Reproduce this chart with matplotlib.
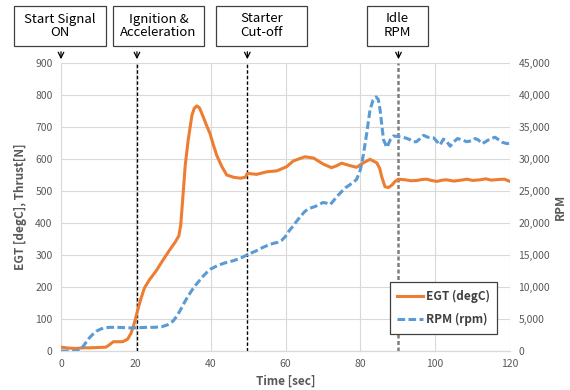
import matplotlib
matplotlib.use('Agg')
import matplotlib.pyplot as plt
from matplotlib.patches import Rectangle
from matplotlib.ticker import FuncFormatter

plt.rcParams['font.family'] = ['Noto Sans CJK KR', 'DejaVu Sans']

# EGT trace (degC), time in sec
egt_t = [0, 2, 4, 6, 8, 10, 12, 13, 14, 15, 16.5, 17.8, 18.7, 19.6, 20.5, 21.4, 22.3,
         23.6, 25.4, 27.3, 29, 30.5, 31.5, 32, 32.5, 33.2, 34, 35, 35.6, 36.3, 37, 38,
         38.9, 39.8, 40.7, 41.6, 43, 44.3, 46.1, 47.9, 49.3, 49.8, 52.3, 55, 57.7, 60.3,
         62.1, 63.5, 65.2, 67.5, 70.1, 72.3, 73.5, 75, 77, 79, 80.8, 82.6, 84.4, 85.2,
         85.7, 86.6, 87.5, 88.4, 89.3, 90.2, 92, 93.5, 95.1, 96.5, 97.7, 99, 100.4,
         102, 103, 105, 107, 108.5, 110, 112, 113.5, 115, 117, 118.5, 120]
egt = [12, 9, 8, 10, 10, 11, 12, 20, 29, 29, 29, 37, 55, 87, 128, 165, 197,
       222, 250, 285, 315, 340, 360, 394, 470, 580, 660, 737, 758, 766, 760, 732,
       705, 680, 645, 612, 576, 550, 543, 540, 543, 555, 552, 560, 563, 576,
       594, 600, 607, 603, 584, 573, 578, 587, 580, 574, 588, 599, 588, 570,
       545, 513, 511, 518, 530, 537, 535, 532, 533, 536, 537, 533, 530,
       534, 535, 531, 534, 537, 533, 535, 538, 534, 536, 537, 530]

# RPM trace
rpm_t = [0, 2, 4, 5, 5.5, 6.5, 7.5, 8.5, 9.5, 10.5, 11.5, 13, 15, 17, 19, 21, 23, 25,
         27, 28.5, 30, 31, 32, 33, 34, 35, 36, 37, 38, 39, 40, 41, 42, 44, 46, 48,
         50, 52, 54, 56, 58, 59, 60, 61, 62, 63, 64, 65, 66, 67, 68, 69, 70, 71, 72,
         73, 74, 75, 76, 77, 78, 79, 80, 80.8, 81.7, 82.6, 83.4, 84.2, 84.8, 85.3,
         85.9, 86.2, 87.1, 88, 88.9, 90.2, 91, 92, 93, 94.2, 95, 96, 96.9, 98, 99.6,
         101.3, 102.2, 103, 104, 105, 106, 107, 108.5, 110, 110.7, 111.5, 112.5, 113.5,
         114.5, 116, 117, 118, 119.2, 120]
rpm = [0, 0, 0, 100, 400, 1200, 2000, 2600, 3100, 3400, 3600, 3700, 3700, 3650,
       3600, 3650, 3700, 3700, 3800, 4100, 4700, 5500, 6500, 7600, 8600, 9500, 10300,
       11000, 11700, 12300, 12800, 13100, 13400, 13800, 14100, 14500, 15100, 15600,
       16200, 16700, 17000, 17300, 17900, 18800, 19500, 20300, 21000, 21700, 22200,
       22400, 22600, 22900, 23200, 23100, 22900, 23600, 24300, 24900, 25500, 25900,
       26300, 26800, 28300, 30600, 34000, 37700, 39200, 39700, 39300, 37600, 34500,
       33000, 31800, 33000, 33600, 33500, 33400, 33300, 33100, 32700, 32700, 33200,
       33700, 33400, 33300, 32200, 33100, 32800, 32000, 32700, 33200, 33000, 32700,
       32900, 33200, 33000, 32400, 32700, 33100, 33400, 33000, 32600, 32400, 32500]

events_t = [0, 20.3, 49.8, 90.2]
events_lbl = ['Start Signal\nON', 'Ignition &\nAcceleration', 'Starter\nCut-off', 'Idle\nRPM']
event_lines_t = [20.3, 49.8, 90.2]

W, H = 570, 390
fig = plt.figure(figsize=(W / 100, H / 100), dpi=100)
ax = fig.add_axes([61 / W, 39 / H, 449 / W, 288 / H])
ax2 = ax.twinx()

grid_c = '#D9D9D9'
txt_c = '#595959'

ax.set_xlim(0, 120)
ax.set_ylim(0, 900)
ax.set_xticks(range(0, 121, 20))
ax.set_yticks(range(0, 901, 100))
ax2.set_ylim(0, 45000)
ax2.set_yticks(range(0, 45001, 5000))
ax2.yaxis.set_major_formatter(FuncFormatter(lambda v, p: f'{int(v):,}'))

ax.grid(True, color=grid_c, lw=0.8)
ax.set_axisbelow(True)
for a in (ax, ax2):
    for s in ('top', 'right'):
        a.spines[s].set_visible(False)
    a.spines['left'].set_visible(False)
    a.spines['bottom'].set_color(grid_c)
    a.tick_params(length=0, labelsize=7.5, labelcolor=txt_c, pad=6)
ax.spines['left'].set_visible(True)
ax.spines['left'].set_color(grid_c)

for i, t in enumerate(event_lines_t):
    if i < 2:
        ax.axvline(t, color='black', lw=1.0, ls=(0, (2.5, 1.5)), zorder=3)
    else:
        ax.axvline(t, color='#7F7F7F', lw=1.8, ls=(0, (1.6, 1.0)), zorder=3)

l1, = ax.plot(egt_t, egt, color='#ED7D31', lw=2.2, label='EGT (degC)', zorder=4)
l2, = ax2.plot(rpm_t, rpm, color='#5B9BD5', lw=2.2, ls=(0, (2.5, 1.1)), label='RPM (rpm)')

ax.set_xlabel('Time [sec]', fontsize=8.5, fontweight='bold', color=txt_c, labelpad=4)
ax.set_ylabel('EGT [degC], Thrust[N]', fontsize=8.5, fontweight='bold', color=txt_c, labelpad=6)
ax2.set_ylabel('RPM', fontsize=8.5, fontweight='bold', color=txt_c, labelpad=3)

leg = ax2.legend([l1, l2], ['EGT (degC)', 'RPM (rpm)'], loc='lower right',
                 bbox_to_anchor=(0.985, 0.04), fancybox=False, framealpha=1,
                 edgecolor='#404040', handlelength=2.2, borderpad=0.6,
                 labelspacing=0.9, handletextpad=0.3,
                 prop={'size': 8.5, 'weight': 'bold'})
leg.get_frame().set_linewidth(0.9)
for t in leg.get_texts():
    t.set_color('#404040')

# event boxes above the plot
boxes = [(14, 106), (113, 204), (216, 307), (367, 428)]
for (x0, x1), lbl, t in zip(boxes, events_lbl, events_t):
    rect = Rectangle((x0 / W, (H - 46) / H), (x1 - x0) / W, 40 / H,
                     transform=fig.transFigure, fill=False, edgecolor='#404040', lw=0.9)
    fig.add_artist(rect)
    fig.text((x0 + x1) / 2 / W, (H - 26) / H, lbl, ha='center', va='center',
             fontsize=9.5, color='black', linespacing=1.1)
    ax.annotate('', xy=(t, (H - 62) / H), xycoords=('data', 'figure fraction'),
                xytext=(t, (H - 49) / H), textcoords=('data', 'figure fraction'),
                arrowprops=dict(arrowstyle='->', color='black', lw=0.9),
                annotation_clip=False)

fig.savefig('out.png', dpi=100)
